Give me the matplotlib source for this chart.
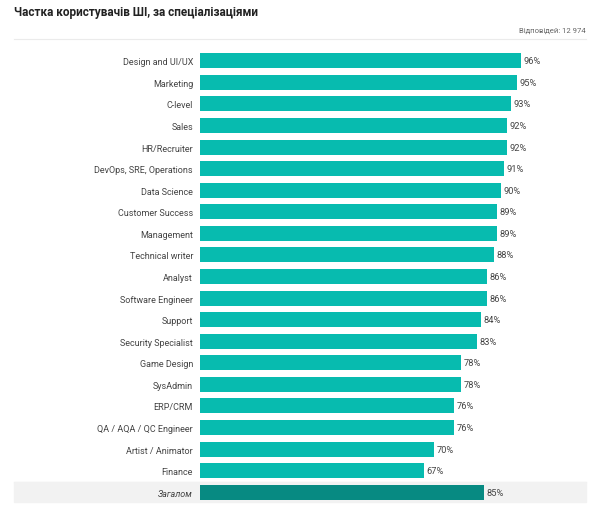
import matplotlib.pyplot as plt
from matplotlib.patches import Rectangle

plt.rcParams["font.family"] = ["Roboto", "DejaVu Sans"]

CATEGORIES = [
    "Design and UI/UX", "Marketing", "C-level", "Sales", "HR/Recruiter",
    "DevOps, SRE, Operations", "Data Science", "Customer Success", "Management",
    "Technical writer", "Analyst", "Software Engineer", "Support",
    "Security Specialist", "Game Design", "SysAdmin", "ERP/CRM",
    "QA / AQA / QC Engineer", "Artist / Animator", "Finance", "Загалом",
]
VALUES = [96, 95, 93, 92, 92, 91, 90, 89, 89, 88, 86, 86, 84, 83, 78, 78, 76, 76, 70, 67, 85]

TITLE = "Частка користувачів ШІ, за спеціалізаціями"
NOTE = "Відповідей: 12 974"

W, H = 600, 510
BAR = "#07bbaf"
TOTAL_BAR = "#078a82"
TEXT = "#444444"


def main() -> None:
    fig = plt.figure(figsize=(W / 100, H / 100), dpi=100)

    # total row band and separator lines, in pixel -> figure coords
    fig.patches.append(Rectangle((14 / W, 1 - 503 / H), 572 / W, 20 / H,
                                 transform=fig.transFigure, color="#f2f2f2", zorder=-1))
    fig.add_artist(plt.Line2D([14 / W, 586 / W], [1 - 483 / H, 1 - 483 / H],
                              transform=fig.transFigure, color="#e2e2e2", lw=0.8, zorder=-1))
    fig.add_artist(plt.Line2D([14 / W, 586 / W], [1 - 40 / H, 1 - 40 / H],
                              transform=fig.transFigure, color="#ebebeb", lw=0.8))

    fig.text(14 / W, 1 - 12.5 / H, TITLE, fontsize=8.5, fontweight="bold",
             color="#222222", va="center", ha="left")
    fig.text(586 / W, 1 - 31 / H, NOTE, fontsize=5.5, color="#666666",
             va="center", ha="right")

    top, bottom = 51, 504
    ax = fig.add_axes([200 / W, 1 - bottom / H, 334 / W, (bottom - top) / H])
    ax.set_zorder(1)
    ax.set_facecolor("none")
    n = len(CATEGORIES)
    ys = list(range(n))
    colors = [BAR] * (n - 1) + [TOTAL_BAR]
    ax.barh(ys, VALUES, height=0.7, color=colors)
    for y, v in zip(ys, VALUES):
        ax.text(v + 0.8, y, f"{v}%", va="center", ha="left", fontsize=6.7, color=TEXT)
    ax.set_xlim(0, 100)
    ax.set_ylim(n - 0.5, -0.5)
    ax.set_yticks(ys)
    labels = ax.set_yticklabels(CATEGORIES, fontsize=6.5, color=TEXT)
    labels[-1].set_fontstyle("italic")
    ax.tick_params(axis="y", length=0, pad=5)
    ax.set_xticks([])
    for spine in ax.spines.values():
        spine.set_visible(False)

    fig.savefig("out.png", dpi=100)


if __name__ == "__main__":
    main()
